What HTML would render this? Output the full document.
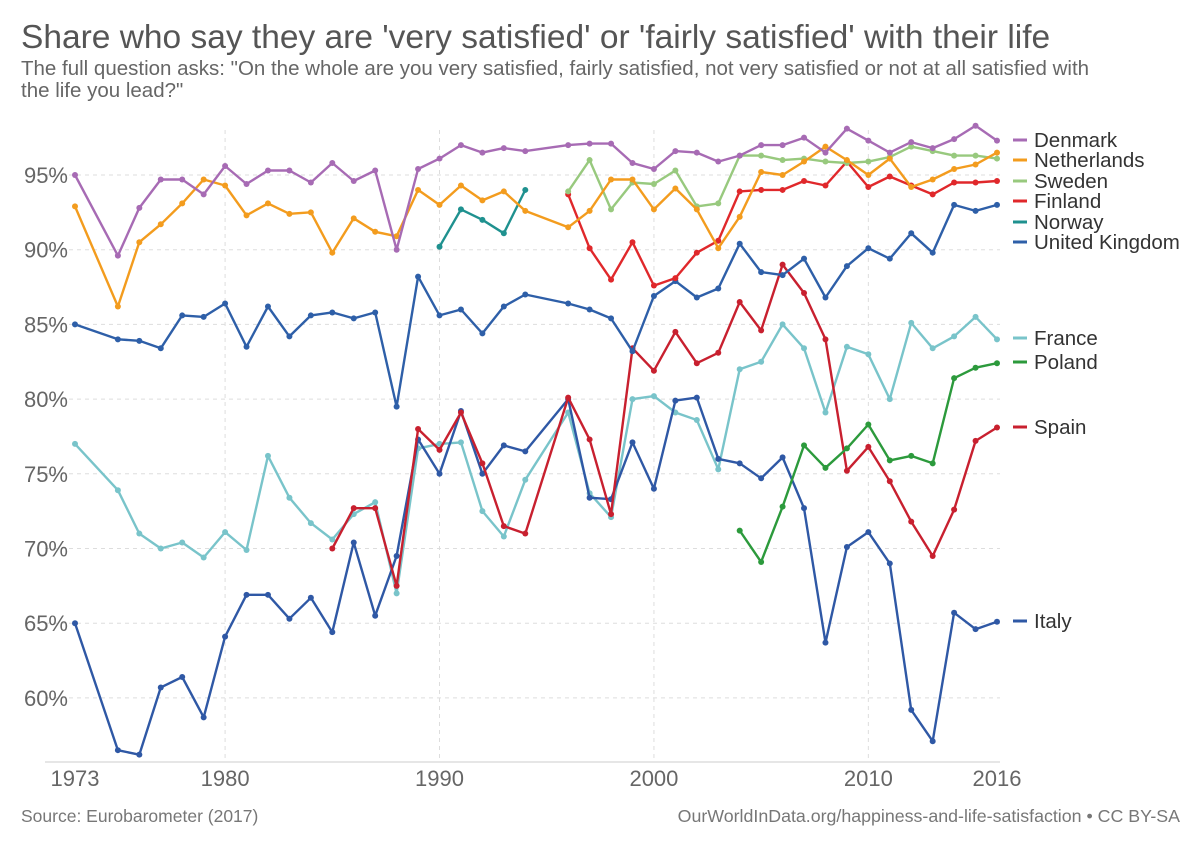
<!DOCTYPE html>
<html><head><meta charset="utf-8">
<style>
body{margin:0;background:#fff;font-family:"Liberation Sans",sans-serif;}
svg text{font-family:"Liberation Sans",sans-serif;}
</style></head>
<body>
<svg id="chart" width="1200" height="847" viewBox="0 0 1200 847">
<text x="21" y="48" font-size="33.5" fill="#555">Share who say they are 'very satisfied' or 'fairly satisfied' with their life</text>
<text x="21" y="75" font-size="20.5" fill="#666">The full question asks: "On the whole are you very satisfied, fairly satisfied, not very satisfied or not at all satisfied with</text>
<text x="21" y="97" font-size="20.5" fill="#666">the life you lead?"</text>
<text x="21" y="822" font-size="17.5" fill="#777">Source: Eurobarometer (2017)</text>
<text x="1180" y="822" font-size="17.8" fill="#777" text-anchor="end">OurWorldInData.org/happiness-and-life-satisfaction • CC BY-SA</text>
<g id="grid"></g><g id="series"></g><g id="legend"></g>
</svg>
<script>
const years=[1973,1975,1976,1977,1978,1979,1980,1981,1982,1983,1984,1985,1986,1987,1988,1989,1990,1991,1992,1993,1994,1996,1997,1998,1999,2000,2001,2002,2003,2004,2005,2006,2007,2008,2009,2010,2011,2012,2013,2014,2015,2016];
const yTicks=[60,65,70,75,80,85,90,95];
const xTicks=[1973,1980,1990,2000,2010,2016];
const names=["Denmark","Netherlands","Sweden","Finland","Norway","United Kingdom","France","Poland","Spain","Italy"];
const denmark=[95.0,89.6,92.8,94.7,94.7,93.7,95.6,94.4,95.3,95.3,94.5,95.8,94.6,95.3,90.0,95.4,96.1,97.0,96.5,96.8,96.6,97.0,97.1,97.1,95.8,95.4,96.6,96.5,95.9,96.3,97.0,97.0,97.5,96.5,98.1,97.3,96.5,97.2,96.8,97.4,98.3,97.3];
const netherlands=[92.9,86.2,90.5,91.7,93.1,94.7,94.3,92.3,93.1,92.4,92.5,89.8,92.1,91.2,90.9,94.0,93.0,94.3,93.3,93.9,92.6,91.5,92.6,94.7,94.7,92.7,94.1,92.7,90.1,92.2,95.2,95.0,95.9,96.9,96.0,95.0,96.1,94.2,94.7,95.4,95.7,96.5];
const sweden=[null,null,null,null,null,null,null,null,null,null,null,null,null,null,null,null,null,null,null,null,null,93.9,96.0,92.7,94.5,94.4,95.3,92.9,93.1,96.3,96.3,96.0,96.1,95.9,95.8,95.9,96.2,96.9,96.6,96.3,96.3,96.1];
const finland=[null,null,null,null,null,null,null,null,null,null,null,null,null,null,null,null,null,null,null,null,null,93.7,90.1,88.0,90.5,87.6,88.1,89.8,90.6,93.9,94.0,94.0,94.6,94.3,95.9,94.2,94.9,94.3,93.7,94.5,94.5,94.6];
const norway=[null,null,null,null,null,null,null,null,null,null,null,null,null,null,null,null,90.2,92.7,92.0,91.1,94.0,null,null,null,null,null,null,null,null,null,null,null,null,null,null,null,null,null,null,null,null,null];
const uk=[85.0,84.0,83.9,83.4,85.6,85.5,86.4,83.5,86.2,84.2,85.6,85.8,85.4,85.8,79.5,88.2,85.6,86.0,84.4,86.2,87.0,86.4,86.0,85.4,83.2,86.9,87.9,86.8,87.4,90.4,88.5,88.3,89.4,86.8,88.9,90.1,89.4,91.1,89.8,93.0,92.6,93.0];
const france=[77.0,73.9,71.0,70.0,70.4,69.4,71.1,69.9,76.2,73.4,71.7,70.6,72.3,73.1,67.0,76.7,77.0,77.1,72.5,70.8,74.6,79.1,73.7,72.1,80.0,80.2,79.1,78.6,75.3,82.0,82.5,85.0,83.4,79.1,83.5,83.0,80.0,85.1,83.4,84.2,85.5,84.0];
const poland=[null,null,null,null,null,null,null,null,null,null,null,null,null,null,null,null,null,null,null,null,null,null,null,null,null,null,null,null,null,71.2,69.1,72.8,76.9,75.4,76.7,78.3,75.9,76.2,75.7,81.4,82.1,82.4];
const spain=[null,null,null,null,null,null,null,null,null,null,null,70.0,72.7,72.7,67.5,78.0,76.6,79.1,75.7,71.5,71.0,80.1,77.3,72.3,83.4,81.9,84.5,82.4,83.1,86.5,84.6,89.0,87.1,84.0,75.2,76.8,74.5,71.8,69.5,72.6,77.2,78.1];
const italy=[65.0,56.5,56.2,60.7,61.4,58.7,64.1,66.9,66.9,65.3,66.7,64.4,70.4,65.5,69.5,77.3,75.0,79.2,75.0,76.9,76.5,80.0,73.4,73.3,77.1,74.0,79.9,80.1,76.0,75.7,74.7,76.1,72.7,63.7,70.1,71.1,69.0,59.2,57.1,65.7,64.6,65.1];

const NS="http://www.w3.org/2000/svg";
const X0=75,X1=997,Y95=175,PX5=74.7;
const x=yr=>X0+(yr-1973)*(X1-X0)/43;
const y=v=>Y95-(v-95)*PX5/5;
function mk(tag,attrs,parent){const e=document.createElementNS(NS,tag);for(const k in attrs)e.setAttribute(k,attrs[k]);parent.appendChild(e);return e;}
const grid=document.getElementById('grid');
yTicks.forEach(t=>{
  const l=mk('line',{x1:45,x2:1000,y1:y(t),y2:y(t),stroke:'#ddd','stroke-dasharray':'4,4'},grid);
  
  
  const tx=mk('text',{x:68,y:y(t)+8,'font-size':22,fill:'#666','text-anchor':'end'},grid);
  tx.textContent=t+'%';
  
  
});
xTicks.forEach(t=>{
  if(t!==1973&&t!==2016){
    const l=mk('line',{x1:x(t),x2:x(t),y1:130,y2:762,stroke:'#ddd','stroke-dasharray':'4,4'},grid);
    
    
  }
  const tx=mk('text',{x:x(t),y:786,'font-size':22,fill:'#666','text-anchor':'middle'},grid);
  tx.textContent=t;
  
  
});
const ax=mk('line',{x1:45,x2:1000,y1:762,y2:762,stroke:'#ccc'},grid);



const data=[denmark,netherlands,sweden,finland,norway,uk,france,poland,spain,italy];
const colors=["#a76bb4","#f39c1e","#98c97e","#e0282b","#1f918f","#2e5fa8","#79c4ca","#2c9a3c","#c8202f","#2f58a5"];
const legendY=[140,160,181,201,222,242,338,362,427,621];
const sg=document.getElementById('series');
const drawOrder=[6,9,8,7,5,4,3,2,1,0];
drawOrder.forEach(i=>{
  const vals=data[i];
  const g=mk('g',{},sg);
  
  
  let d='',started=false;
  vals.forEach((v,j)=>{
    if(v==null){started=false;return;}
    d+=(started?'L':'M')+x(years[j]).toFixed(1)+','+y(v).toFixed(1);
    started=true;
  });
  const p=mk('path',{d:d,fill:'none',stroke:colors[i],'stroke-width':2.4,'stroke-linejoin':'round'},g);
  
  
  vals.forEach((v,j)=>{
    if(v==null)return;
    const c=mk('circle',{cx:x(years[j]),cy:y(v),r:3,fill:colors[i]},g);
    
    
  });
});
const lg=document.getElementById('legend');
names.forEach((n,i)=>{
  const g=mk('g',{},lg);
  
  
  mk('line',{x1:1013,x2:1027,y1:legendY[i],y2:legendY[i],stroke:colors[i],'stroke-width':3},g);
  const t=mk('text',{x:1034,y:legendY[i]+7,'font-size':20.5,fill:'#333'},g);
  t.textContent=n;
  
  
});
</script>
</body></html>
